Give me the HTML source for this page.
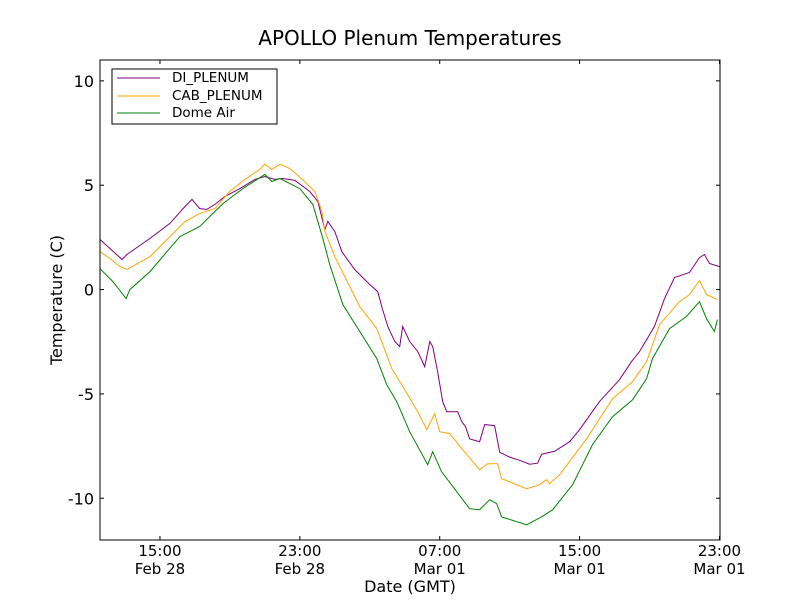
<!DOCTYPE html>
<html><head><meta charset="utf-8"><style>
html,body{margin:0;padding:0;background:#fff;}
svg{display:block;font-family:"DejaVu Sans","Liberation Sans",sans-serif;}
</style></head><body>
<svg id="chart" width="800" height="600" viewBox="0 0 800 600">
<rect width="800" height="600" fill="#fff"/>
<text x="410" y="45" text-anchor="middle" font-size="20">APOLLO Plenum Temperatures</text>
<g id="plot"></g>
<text x="410" y="592" text-anchor="middle" font-size="16">Date (GMT)</text>
<text transform="translate(62,300) rotate(-90)" text-anchor="middle" font-size="16">Temperature (C)</text>
<g>
<rect x="112" y="69" width="165" height="55" fill="#fff" stroke="#000" stroke-width="1"/>
<line x1="117" y1="78" x2="160" y2="78" stroke="purple"/>
<text x="172" y="82" font-size="13.5">DI_PLENUM</text>
<line x1="117" y1="96" x2="160" y2="96" stroke="orange"/>
<text x="172" y="100" font-size="13.5">CAB_PLENUM</text>
<line x1="117" y1="113" x2="160" y2="113" stroke="green"/>
<text x="172" y="117" font-size="13.5">Dome Air</text>
</g>
</svg>
<script>
const diTimes=[11.57,12.14,12.83,13.11,14.43,15.57,16.43,16.83,17.28,17.68,18.14,18.71,19.57,20.43,21.0,21.57,22.03,22.71,23.57,24.03,24.31,24.43,24.6,25.0,25.4,26.14,27.0,27.46,27.68,28.03,28.43,28.71,28.88,29.28,29.74,30.14,30.43,30.6,30.88,31.17,31.4,31.74,32.03,32.26,32.48,32.71,33.28,33.57,34.14,34.43,35.0,35.57,36.14,36.6,36.83,37.57,38.43,39.0,40.14,41.28,41.97,42.43,43.28,43.86,44.43,45.28,45.86,46.14,46.43,47.0];
const diValues=[2.4,1.97,1.44,1.68,2.45,3.17,3.98,4.32,3.88,3.84,4.08,4.46,4.84,5.28,5.42,5.28,5.32,5.23,4.7,4.22,3.26,2.88,3.26,2.78,1.82,0.96,0.24,-0.1,-0.81,-1.77,-2.49,-2.73,-1.77,-2.49,-2.97,-3.69,-2.49,-2.73,-3.93,-5.37,-5.85,-5.85,-5.85,-6.33,-6.57,-7.15,-7.29,-6.47,-6.52,-7.8,-8.03,-8.18,-8.37,-8.32,-7.89,-7.75,-7.29,-6.71,-5.37,-4.32,-3.45,-2.97,-1.77,-0.43,0.58,0.82,1.53,1.68,1.25,1.1];
const cabTimes=[11.57,12.14,12.71,13.11,14.43,15.57,16.43,17.28,18.14,18.99,19.86,20.71,21.0,21.4,21.86,22.43,23.28,23.86,24.26,24.43,25.0,25.57,26.43,27.4,28.26,28.83,29.74,30.26,30.71,31.0,31.57,32.31,33.28,33.74,34.31,34.54,35.97,36.71,37.11,37.28,37.86,39.4,40.88,42.03,42.83,43.57,44.71,45.28,45.86,46.26,46.88];
const cabValues=[1.82,1.49,1.1,0.96,1.58,2.54,3.26,3.65,3.88,4.7,5.28,5.76,6.0,5.76,6.0,5.8,5.18,4.7,3.74,2.78,1.58,0.62,-0.82,-1.87,-3.79,-4.56,-5.85,-6.71,-5.95,-6.81,-6.9,-7.67,-8.63,-8.35,-8.35,-9.06,-9.54,-9.35,-9.11,-9.3,-8.87,-7.15,-5.23,-4.41,-3.45,-1.68,-0.58,-0.24,0.43,-0.24,-0.48];
const domeTimes=[11.57,12.31,13.06,13.28,14.43,15.4,16.14,17.28,18.03,18.6,19.74,21.0,21.4,21.86,23.0,23.74,24.31,24.71,25.46,26.43,27.4,27.97,28.54,29.28,30.31,30.6,31.11,32.71,33.28,33.86,34.26,34.54,35.97,36.83,37.46,38.6,39.74,40.88,42.03,42.83,43.17,44.14,45.11,45.86,46.26,46.71,46.88];
const domeValues=[1.0,0.38,-0.43,0,0.86,1.82,2.54,3.02,3.65,4.12,4.84,5.52,5.18,5.32,4.84,4.08,2.45,1.2,-0.72,-2.01,-3.31,-4.56,-5.37,-6.81,-8.39,-7.77,-8.73,-10.5,-10.55,-10.07,-10.26,-10.89,-11.27,-10.89,-10.55,-9.35,-7.43,-6.09,-5.28,-4.27,-3.31,-1.87,-1.29,-0.58,-1.39,-2.01,-1.44];
const yTicks=[-10,-5,0,5,10];
const yTickLabels=["-10","-5","0","5","10"];
const xTicks=[15,23,31,39,47];
const xTickLabels1=["15:00","23:00","07:00","15:00","23:00"];
const xTickLabels2=["Feb 28","Feb 28","Mar 01","Mar 01","Mar 01"];

const L=100,R=720,T=60,B=540,xMin=11.57,xMax=47.03,yMin=-12,yMax=11;
const sx=h=>L+(h-xMin)/(xMax-xMin)*(R-L);
const sy=v=>B-(v-yMin)/(yMax-yMin)*(B-T);
const NS="http://www.w3.org/2000/svg";
const g=document.getElementById('plot');
function mk(tag,attrs){const e=document.createElementNS(NS,tag);for(const k in attrs)e.setAttribute(k,attrs[k]);return e;}
function series(ts,vs,color,name){
  const p=mk('path',{d:ts.map((t,i)=>(i?'L':'M')+sx(t).toFixed(1)+','+sy(vs[i]).toFixed(1)).join(''),fill:'none',stroke:color,'stroke-width':1});
  
  
  g.appendChild(p);
}
series(diTimes,diValues,'purple','di-plenum-line');
series(cabTimes,cabValues,'orange','cab-plenum-line');
series(domeTimes,domeValues,'green','dome-air-line');
const frame=mk('rect',{x:L,y:T,width:R-L,height:B-T,fill:'none',stroke:'#000','stroke-width':1});


g.appendChild(frame);
yTicks.forEach((v,i)=>{
  const y=sy(v);
  g.appendChild(mk('line',{x1:L,y1:y,x2:L+4,y2:y,stroke:'#000'}));
  g.appendChild(mk('line',{x1:R,y1:y,x2:R-4,y2:y,stroke:'#000'}));
  const t=mk('text',{x:L-6,y:y+6,'text-anchor':'end','font-size':16});
  t.textContent=yTickLabels[i];
  
  
  g.appendChild(t);
});
xTicks.forEach((h,i)=>{
  const x=sx(h);
  g.appendChild(mk('line',{x1:x,y1:B,x2:x,y2:B-4,stroke:'#000'}));
  g.appendChild(mk('line',{x1:x,y1:T,x2:x,y2:T+4,stroke:'#000'}));
  const t=mk('text',{x:x,y:556,'text-anchor':'middle','font-size':15});
  t.textContent=xTickLabels1[i];
  
  
  g.appendChild(t);
  const t2=mk('text',{x:x,y:574,'text-anchor':'middle','font-size':15});
  t2.textContent=xTickLabels2[i];
  
  
  g.appendChild(t2);
});
</script>
</body></html>
